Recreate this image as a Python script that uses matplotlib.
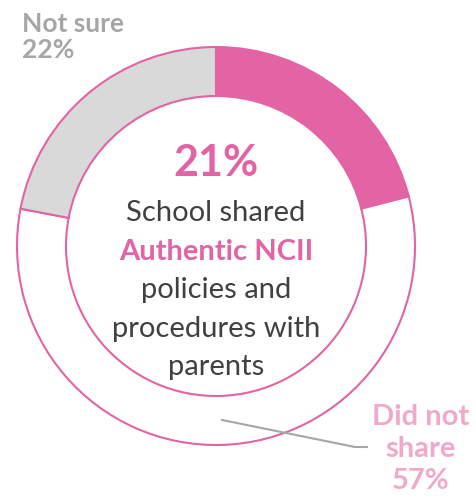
import matplotlib.pyplot as plt

plt.rcParams['font.family'] = ['Lato', 'DejaVu Sans']

# données du graphique
categorias = ['Shared', 'Did not share', 'Not sure']
valores = [21, 57, 22]
colores = ['#E264A4', '#FFFFFF', '#D9D9D9']

rosa = '#E264A4'
rosa_claro = '#F0A8CB'
gris = '#A6A6A6'
texto = '#404040'

W, H = 477, 502
fig = plt.figure(figsize=(W / 100, H / 100), dpi=100)
ax = fig.add_axes([0, 0, 1, 1])

cx, cy = 216, H - 247
r_ext, ancho = 199, 49

ax.pie(valores, colors=colores, startangle=90, counterclock=False,
       center=(cx, cy), radius=r_ext,
       wedgeprops=dict(width=ancho, edgecolor=rosa, linewidth=1.5))

ax.set_xlim(0, W)
ax.set_ylim(0, H)
ax.set_aspect('equal')
ax.axis('off')

# texto central
ax.text(cx, H - 163, '21%', ha='center', va='center', fontsize=31,
        fontweight='bold', color=rosa)
lineas = [('School shared', texto, 'normal'),
          ('Authentic NCII', rosa, 'bold'),
          ('policies and', texto, 'normal'),
          ('procedures with', texto, 'normal'),
          ('parents', texto, 'normal')]
y0 = 213
for i, (t, c, w) in enumerate(lineas):
    ax.text(cx, H - (y0 + i * 38.5), t, ha='center', va='center',
            fontsize=21, color=c, fontweight=w)

# etiquetas
ax.text(22, H - 37, 'Not sure\n22%', ha='left', va='center', fontsize=19,
        fontweight='bold', color=gris, linespacing=1.15)
ax.plot([222, 355, 367], [H - 421, H - 448, H - 448], color='#A6A6A6', lw=1.5)
ax.text(421, H - 449, 'Did not\nshare\n57%', ha='center', va='center',
        fontsize=21, fontweight='bold', color=rosa_claro, linespacing=1.3)

fig.savefig('out.png', dpi=100)
